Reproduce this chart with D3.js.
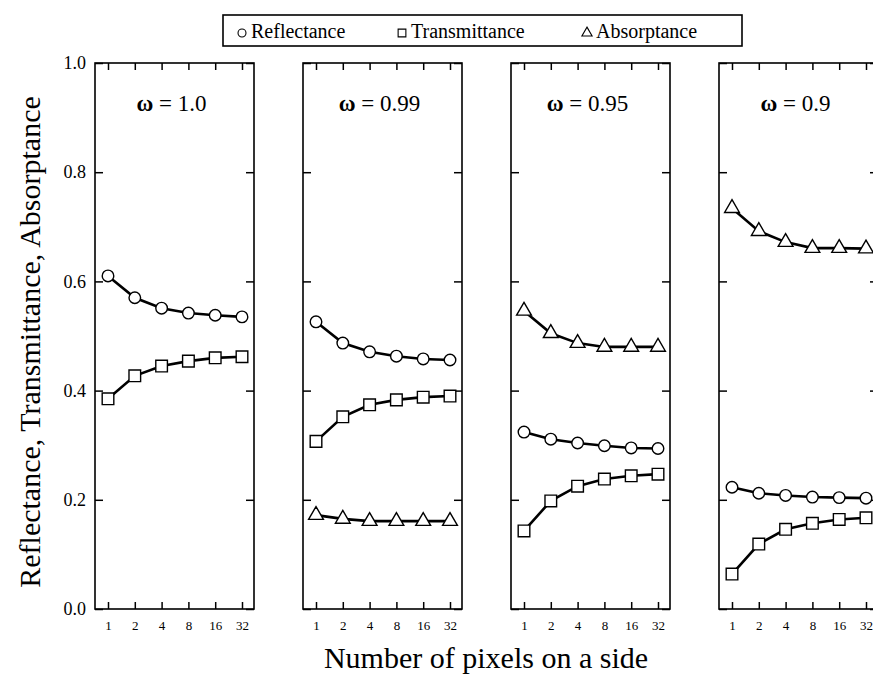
<!DOCTYPE html>
<html>
<head>
<meta charset="utf-8">
<script src="https://cdn.jsdelivr.net/npm/d3@7"></script>
<style>
  body { margin: 0; background: #fff; }
  text { font-family: "Liberation Serif", "Times New Roman", serif; fill: #000; }
</style>
</head>
<body>
<svg width="873" height="677"></svg>
<script>
// pixels per side (x categories)
var sizes = [1, 2, 4, 8, 16, 32];
var omegas = ["1.0", "0.99", "0.95", "0.9"];
var yTicks = [0, 0.2, 0.4, 0.6, 0.8, 1.0];

// one row per panel
var reflectance = [
  [0.610, 0.570, 0.551, 0.542, 0.538, 0.535],
  [0.526, 0.487, 0.471, 0.463, 0.458, 0.456],
  [0.324, 0.311, 0.304, 0.299, 0.295, 0.294],
  [0.223, 0.212, 0.208, 0.205, 0.204, 0.203]
];
var transmittance = [
  [0.385, 0.427, 0.445, 0.454, 0.460, 0.462],
  [0.307, 0.352, 0.374, 0.383, 0.388, 0.390],
  [0.143, 0.198, 0.225, 0.238, 0.244, 0.247],
  [0.064, 0.119, 0.146, 0.157, 0.164, 0.167]
];
var absorptance = [
  null,
  [0.172, 0.165, 0.161, 0.161, 0.161, 0.161],
  [0.546, 0.505, 0.487, 0.480, 0.480, 0.480],
  [0.734, 0.692, 0.672, 0.661, 0.661, 0.660]
];

var svg = d3.select("svg"),
    top0 = 63, bottom0 = 609,
    panelW = 159, panelStep = 208, left0 = 95;

var x = d3.scalePoint().domain(sizes).range([13, 147]);
var y = d3.scaleLinear().domain([0, 1]).range([bottom0 - top0, 0]);
var h = bottom0 - top0;

var line = d3.line()
    .x(function(d, i) { return x(sizes[i]); })
    .y(function(d) { return y(d); });

omegas.forEach(function(om, p) {
  var g = svg.append("g")
      .attr("transform", "translate(" + (left0 + p * panelStep) + "," + top0 + ")");

  // ticks pointing inward on all four sides
  g.append("g")
      .attr("transform", "translate(0," + h + ")")
      .call(d3.axisBottom(x).tickSize(-7).tickPadding(15))
      .call(function(a) {
        a.select(".domain").remove();
        a.selectAll("text").style("font-size", "13px").attr("dy", "0.45em");
      });
  g.append("g")
      .call(d3.axisTop(x).tickSize(-7).tickFormat(""))
      .call(function(a) { a.select(".domain").remove(); });
  g.append("g")
      .call(d3.axisLeft(y).tickValues(yTicks).tickSize(-8).tickPadding(p == 0 ? 9 : 0)
        .tickFormat(p == 0 ? d3.format(".1f") : ""))
      .call(function(a) {
        a.select(".domain").remove();
        a.selectAll("text").style("font-size", "18px");
      });
  g.append("g")
      .attr("transform", "translate(" + panelW + ",0)")
      .call(d3.axisRight(y).tickValues(yTicks).tickSize(-8).tickFormat(""))
      .call(function(a) { a.select(".domain").remove(); });
  g.selectAll(".tick line").attr("stroke-width", 1.5);

  g.append("rect")
      .attr("width", panelW).attr("height", h)
      .attr("fill", "none").attr("stroke", "#000").attr("stroke-width", 1.6);

  var title = g.append("text")
      .attr("x", panelW / 2 - 3).attr("y", 48)
      .attr("text-anchor", "middle")
      .style("font-size", "23px");
  title.append("tspan").style("font-weight", "bold").text("ω");
  title.append("tspan").text(" = " + om);

  var series = [
    {vals: reflectance[p], shape: "circle"},
    {vals: transmittance[p], shape: "square"},
    {vals: absorptance[p], shape: "triangle"}
  ];
  series.forEach(function(s) {
    if (!s.vals) return;
    g.append("path")
        .datum(s.vals)
        .attr("d", line)
        .attr("fill", "none").attr("stroke", "#000").attr("stroke-width", 2.6);
    var sym = s.shape == "circle" ? d3.symbolCircle : s.shape == "square" ? d3.symbolSquare : d3.symbolTriangle;
    var area = s.shape == "circle" ? 105 : s.shape == "square" ? 135 : 95;
    g.selectAll(".m" + s.shape)
      .data(s.vals)
      .enter().append("path")
        .attr("transform", function(d, i) { return "translate(" + x(sizes[i]) + "," + y(d) + ")"; })
        .attr("d", d3.symbol().type(sym).size(area))
        .attr("fill", "#fff").attr("stroke", "#000").attr("stroke-width", 1.4);
  });
});

// legend
svg.append("rect")
    .attr("x", 223).attr("y", 15).attr("width", 519).attr("height", 31)
    .attr("fill", "#fff").attr("stroke", "#000").attr("stroke-width", 1.6);
var legendItems = [
  {label: "Reflectance", sym: d3.symbolCircle, size: 50, x: 242},
  {label: "Transmittance", sym: d3.symbolSquare, size: 60, x: 402},
  {label: "Absorptance", sym: d3.symbolTriangle, size: 45, x: 587}
];
legendItems.forEach(function(d) {
  svg.append("path")
      .attr("transform", "translate(" + d.x + ",33)")
      .attr("d", d3.symbol().type(d.sym).size(d.size))
      .attr("fill", "#fff").attr("stroke", "#000").attr("stroke-width", 1.1);
  svg.append("text")
      .attr("x", d.x + 9).attr("y", 38)
      .style("font-size", "20px")
      .text(d.label);
});

// axis titles
svg.append("text")
    .attr("transform", "translate(40,342) rotate(-90)")
    .attr("text-anchor", "middle")
    .style("font-size", "30px")
    .text("Reflectance, Transmittance, Absorptance");
svg.append("text")
    .attr("x", 486).attr("y", 668)
    .attr("text-anchor", "middle")
    .style("font-size", "30px")
    .text("Number of pixels on a side");
</script>
</body>
</html>
